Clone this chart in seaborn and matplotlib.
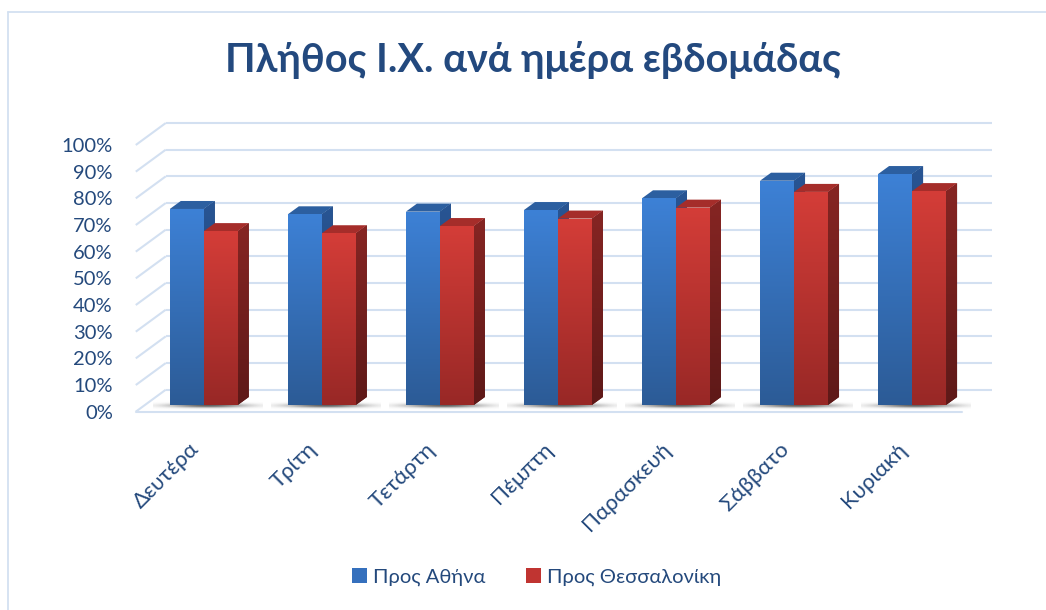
import numpy as np
import pandas as pd
import matplotlib
matplotlib.use("Agg")
import matplotlib.pyplot as plt
import matplotlib.transforms as mtransforms
from matplotlib.patches import Polygon
from matplotlib.lines import Line2D
from matplotlib.colors import LinearSegmentedColormap
import seaborn as sns

# ---- data -------------------------------------------------------------
days = ["Δευτέρα", "Τρίτη", "Τετάρτη", "Πέμπτη", "Παρασκευή", "Σάββατο", "Κυριακή"]
series_names = ["Προς Αθήνα", "Προς Θεσσαλονίκη"]
to_athens = [73.5, 71.5, 72.5, 73.1, 77.5, 84.1, 86.6]
to_thessaloniki = [65.2, 64.4, 67.1, 69.9, 74.0, 79.9, 80.2]
y_ticks = list(range(0, 101, 10))
y_tick_labels = [f"{v}%" for v in y_ticks]
title = "Πλήθος Ι.Χ. ανά ημέρα εβδομάδας"

df = pd.DataFrame({
    "day": days * 2,
    "direction": [series_names[0]] * len(days) + [series_names[1]] * len(days),
    "value": to_athens + to_thessaloniki,
})

# ---- style ------------------------------------------------------------
sns.set_theme(style="white")
plt.rcParams["font.family"] = ["Lato", "DejaVu Sans"]
text_col = "#24497c"
grid_col = "#d3e0f1"

faces = {
    series_names[0]: dict(front=("#3d81d6", "#2c5b96"), side=("#285594", "#1d3d6c"), top="#2c5fa0", mid="#3570bd"),
    series_names[1]: dict(front=("#d43d38", "#982826"), side=("#862523", "#5e1918"), top="#a52d2a", mid="#c03431"),
}

W, H, DPI = 1046, 610, 100
fig = plt.figure(figsize=(W / DPI, H / DPI), dpi=DPI)
fig.patch.set_facecolor("white")

# axes laid out in pixel terms: bar plane 0% at y=405px, 100% at 138.3px
px_per_cat = 118.05
px_per_pct = 2.667
xlim = (-0.7, 6.8)
ylim = (-4.0, 108.0)
left_px = 203.8 - (0 - xlim[0]) * px_per_cat
bottom_px = 405 + (0 - ylim[0]) * px_per_pct
ax = fig.add_axes([left_px / W, (H - bottom_px) / H,
                   (xlim[1] - xlim[0]) * px_per_cat / W,
                   (ylim[1] - ylim[0]) * px_per_pct / H])

pal = {k: v["mid"] for k, v in faces.items()}
sns.barplot(data=df, x="day", y="value", hue="direction", palette=pal,
            width=0.576, saturation=1, linewidth=0, edgecolor="none",
            ax=ax, legend=True)

# depth offsets (data units) for the wall / floor perspective
front_dx, front_dy = -9 / px_per_cat, -6.7 / px_per_pct
back_dx, back_dy = 21 / px_per_cat, 15.3 / px_per_pct
x_front_l = -0.5 + front_dx
x_back_l = -0.5 + back_dx
x_back_r = 6.5 + back_dx
x_front_r = 6.5 + front_dx

# back wall grid, side diagonals and front floor edge
for v in y_ticks:
    yf, yb = v + front_dy, v + back_dy
    ax.plot([x_front_l, x_back_l], [yf, yb], color=grid_col, lw=1.5, zorder=0.5, solid_capstyle="butt")
    ax.plot([x_back_l, x_back_r], [yb, yb], color=grid_col, lw=1.5, zorder=0.5, solid_capstyle="butt")
ax.plot([x_front_l, x_front_r], [front_dy, front_dy], color=grid_col, lw=1.5, zorder=0.5)


def gradient_fill(patch, c_top, c_bot, x0, x1, y0, y1, z):
    cmap = LinearSegmentedColormap.from_list("g", [c_bot, c_top])
    grad = np.linspace(0, 1, 256).reshape(-1, 1)
    im = ax.imshow(grad, extent=[x0, x1, y0, y1], origin="lower", aspect="auto",
                   cmap=cmap, zorder=z, interpolation="bilinear")
    im.set_clip_path(patch)


# soft floor shadows under each pair
sx = np.linspace(-1, 1, 200)
sy = np.linspace(-1, 1, 40)
SX, SY = np.meshgrid(sx, sy)
shadow = np.zeros((40, 200, 4))
shadow[..., :3] = 0.25
shadow[..., 3] = 0.85 * np.exp(-(SX ** 2) / 0.45 - (SY ** 2) / 0.15)
for i in range(len(days)):
    ax.imshow(shadow, extent=[i - 0.43, i + 0.50, -2.2, 1.8], aspect="auto",
              zorder=0.8, interpolation="bilinear")

# extruded bar faces
depth_dx, depth_dy = 11 / px_per_cat, 8 / px_per_pct
for k, (cont, name) in enumerate(zip(ax.containers, series_names)):
    spec = faces[name]
    zbase = 2 + 2 * k
    for bar in cont:
        x0 = bar.get_x()
        w = bar.get_width()
        h = bar.get_height()
        x1 = x0 + w
        bar.set_zorder(zbase + 0.5)
        gradient_fill(bar, spec["front"][0], spec["front"][1], x0, x1, 0, h, zbase + 0.6)
        side = Polygon([(x1, 0), (x1 + depth_dx, depth_dy), (x1 + depth_dx, h + depth_dy), (x1, h)],
                       closed=True, facecolor=spec["side"][1], edgecolor="none", zorder=zbase)
        ax.add_patch(side)
        gradient_fill(side, spec["side"][0], spec["side"][1], x1, x1 + depth_dx, 0, h + depth_dy, zbase + 0.1)
        top = Polygon([(x0, h), (x1, h), (x1 + depth_dx, h + depth_dy), (x0 + depth_dx, h + depth_dy)],
                      closed=True, facecolor=spec["top"], edgecolor="none", zorder=zbase + 0.2)
        ax.add_patch(top)

ax.set_xlim(*xlim)
ax.set_ylim(*ylim)
for s in ax.spines.values():
    s.set_visible(False)
ax.set_facecolor("none")
ax.set_xlabel("")
ax.set_ylabel("")

ax.set_yticks([v + front_dy for v in y_ticks], labels=y_tick_labels)
ax.tick_params(axis="y", length=0, pad=6, labelsize=14.5, labelcolor=text_col)
ax.set_xticks(range(len(days)))
ax.set_xticklabels(days, rotation=45, ha="right", va="center", rotation_mode="anchor")
ax.tick_params(axis="x", length=0, pad=22, labelsize=16, labelcolor=text_col)
shift = mtransforms.ScaledTranslation(-8 / DPI, 0, fig.dpi_scale_trans)
for lab in ax.get_xticklabels():
    lab.set_transform(lab.get_transform() + shift)

sns.move_legend(ax, "center", bbox_to_anchor=(536.5 / W, 33 / H), bbox_transform=fig.transFigure,
                ncol=2, frameon=False, title=None, fontsize=14.5, handlelength=0.75, handleheight=0.75,
                handletextpad=0.3, columnspacing=2.0, labelcolor=text_col)

fig.text(532.5 / W, 1 - 60 / H, title, ha="center", va="center", fontsize=28.5,
         fontweight="bold", color="#23497e")

# chart-area frame
fig.add_artist(Line2D([7.5 / W, 7.5 / W], [0, 1 - 12 / H], transform=fig.transFigure, color=grid_col, lw=1.3))
fig.add_artist(Line2D([7.5 / W, 1], [1 - 12 / H, 1 - 12 / H], transform=fig.transFigure, color=grid_col, lw=1.3))

fig.savefig("out.png", dpi=DPI, facecolor="white")
